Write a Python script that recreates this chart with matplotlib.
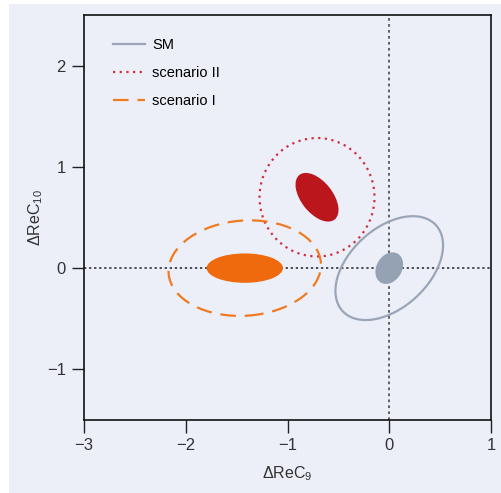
import matplotlib
matplotlib.use("Agg")
import matplotlib.pyplot as plt
from matplotlib.patches import Ellipse, Rectangle
from matplotlib.lines import Line2D

plt.rcParams['font.family'] = ['Liberation Sans', 'DejaVu Sans']
plt.rcParams['mathtext.fontset'] = 'custom'
plt.rcParams['mathtext.rm'] = 'Liberation Sans'
plt.rcParams['mathtext.it'] = 'Liberation Sans'

# ---- data ----
series = ["SM", "scenario II", "scenario I"]
center_x = [0.0, -0.71, -1.42]
center_y = [0.0, 0.70, 0.0]
outer_w = [1.25, 1.13, 1.50]
outer_h = [0.78, 1.17, 0.94]
outer_angle = [43, 0, 4]
inner_w = [0.33, 0.56, 0.75]
inner_h = [0.25, 0.31, 0.29]
inner_angle = [60, -52, 0]
x_ticks = [-3, -2, -1, 0, 1]
y_ticks = [-1, 0, 1, 2]

line_colors = ["#9aa6b8", "#d0303a", "#f07a20"]
fill_colors = ["#94a2b4", "#bb161c", "#ee6a0c"]
styles = ["-", (0, (1, 2)), (0, (7, 4))]

bg = "#eceff8"
fig = plt.figure(figsize=(5.01, 4.93), dpi=100, facecolor="white")
fig.patches.append(Rectangle((9/501, 0), 1 - 9/501, 1 - 4/493, transform=fig.transFigure,
                             facecolor=bg, edgecolor="none", zorder=-10))
ax = fig.add_axes([84/501, 1 - 420/493, (491 - 84)/501, (420 - 15)/493])
ax.set_facecolor(bg)

ax.set_xlim(-3, 1)
ax.set_ylim(-1.5, 2.5)

ax.axhline(0, color="#222222", lw=1.1, ls=(0, (1.5, 1.8)), zorder=1)
ax.axvline(0, color="#555555", lw=1.3, ls=(0, (1.5, 1.8)), zorder=1)

handles = []
for i in range(len(series)):
    e = Ellipse((center_x[i], center_y[i]), outer_w[i], outer_h[i], angle=outer_angle[i],
                facecolor="none", edgecolor=line_colors[i], lw=1.6, ls=styles[i], zorder=3)
    ax.add_patch(e)
    f = Ellipse((center_x[i], center_y[i]), inner_w[i], inner_h[i], angle=inner_angle[i],
                facecolor=fill_colors[i], edgecolor="none", zorder=4)
    ax.add_patch(f)
    handles.append(Line2D([], [], color=line_colors[i], lw=1.6, ls=styles[i]))

leg = ax.legend(handles, series, loc="upper left", frameon=False, fontsize=10.5,
                handlelength=2.2, handletextpad=0.5, borderaxespad=1.0, labelspacing=0.95,
                bbox_to_anchor=(0.02, 0.993))

ax.set_xticks(x_ticks)
ax.set_yticks(y_ticks)
ax.set_xticklabels([("\u2212" + str(-v) if v < 0 else str(v)) for v in x_ticks])
ax.set_yticklabels([("\u2212" + str(-v) if v < 0 else str(v)) for v in y_ticks])
ax.tick_params(axis="both", direction="out", length=9, width=1, labelsize=12, colors="#222222", pad=4)
ax.tick_params(axis="both", labelcolor="#333333")
for s in ax.spines.values():
    s.set_color("#111111")
    s.set_linewidth(1.2)

ax.set_xlabel(r"ΔReC$_9$", fontsize=11.5, color="#333333", labelpad=8)
ax.set_ylabel(r"ΔReC$_{10}$", fontsize=11.5, color="#333333")
ax.yaxis.set_label_coords(-0.095, 0.5)

fig.savefig("out.png", dpi=100, facecolor=fig.get_facecolor())
